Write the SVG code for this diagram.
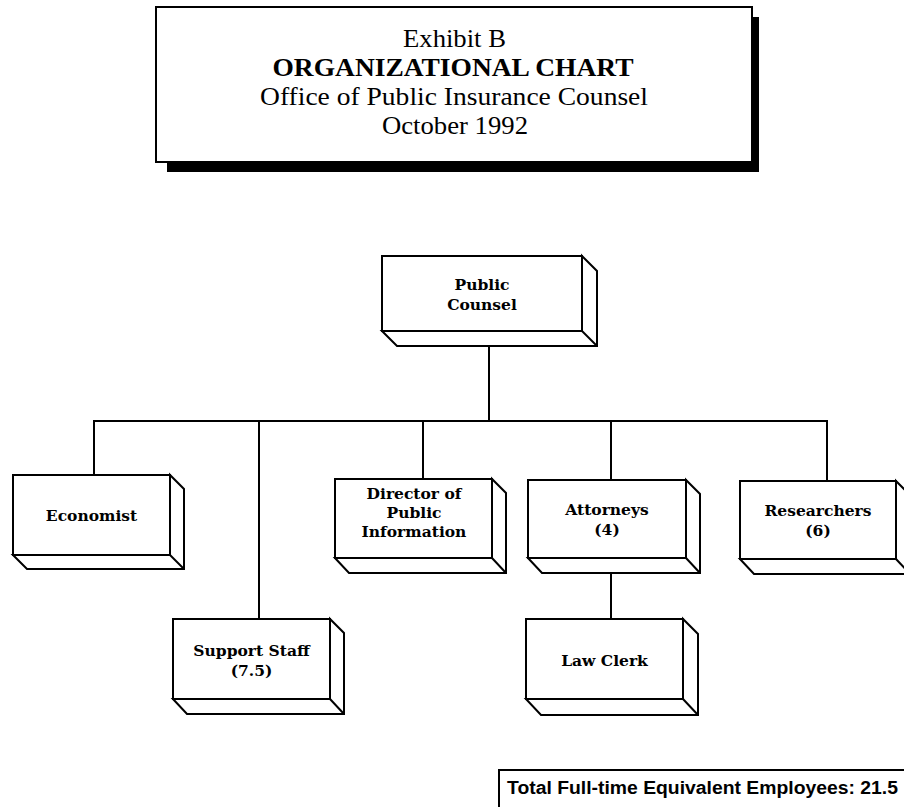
<svg xmlns="http://www.w3.org/2000/svg" width="904" height="807" viewBox="0 0 904 807">
<style>
.bg{fill:#fff}
.box{fill:#fff;stroke:#000;stroke-width:2;stroke-linejoin:miter}
.edge{fill:none;stroke:#000;stroke-width:2}
.conn{fill:none;stroke:#000;stroke-width:2}
.title{font-family:"Liberation Serif","Times New Roman",serif;font-size:25px;fill:#000;text-anchor:middle}
.lbl{font-family:"DejaVu Serif","Liberation Serif",serif;font-weight:bold;font-size:15.5px;fill:#000;text-anchor:middle}
.tot{font-family:"Liberation Sans",Arial,sans-serif;font-weight:bold;font-size:17.5px;fill:#000}
</style>
<rect class="bg" x="0" y="0" width="904" height="807"/>

<g id="title">
  <rect x="752" y="17" width="7" height="155" fill="#000"/>
  <rect x="167" y="162" width="592" height="10" fill="#000"/>
  <rect x="156" y="7" width="596" height="155" fill="#fff" stroke="#000" stroke-width="2"/>
  <text class="title" x="454.5" y="47" textLength="103" lengthAdjust="spacingAndGlyphs">Exhibit B</text>
  <text class="title" x="453" y="76" font-weight="bold" textLength="361" lengthAdjust="spacingAndGlyphs">ORGANIZATIONAL CHART</text>
  <text class="title" x="454" y="105" textLength="388" lengthAdjust="spacingAndGlyphs">Office of Public Insurance Counsel</text>
  <text class="title" x="455" y="134" textLength="146" lengthAdjust="spacingAndGlyphs">October 1992</text>
</g>

<g id="connectors">
  <line class="conn" x1="489" y1="346" x2="489" y2="421"/>
  <line class="conn" x1="93" y1="421" x2="828" y2="421"/>
  <line class="conn" x1="94" y1="421" x2="94" y2="475"/>
  <line class="conn" x1="259" y1="421" x2="259" y2="619"/>
  <line class="conn" x1="423" y1="421" x2="423" y2="479"/>
  <line class="conn" x1="611" y1="421" x2="611" y2="480"/>
  <line class="conn" x1="827" y1="421" x2="827" y2="481"/>
  <line class="conn" x1="611" y1="573" x2="611" y2="619"/>
</g>

<g id="public-counsel">
  <path class="box" d="M382,331 L397,346 L597,346 L597,271 L582,256 L582,331 Z"/>
  <rect class="box" x="382" y="256" width="200" height="75"/>
  <line class="edge" x1="582" y1="331" x2="597" y2="346"/>
  <text class="lbl" x="482" y="290">Public</text>
  <text class="lbl" x="482" y="310">Counsel</text>
</g>

<g id="economist">
  <path class="box" d="M13,555 L27,569 L184,569 L184,489 L170,475 L170,555 Z"/>
  <rect class="box" x="13" y="475" width="157" height="80"/>
  <line class="edge" x1="170" y1="555" x2="184" y2="569"/>
  <text class="lbl" x="91.5" y="521">Economist</text>
</g>

<g id="director">
  <path class="box" d="M335,558 L349,573 L506,573 L506,493 L492,479 L492,558 Z"/>
  <rect class="box" x="335" y="479" width="157" height="79"/>
  <line class="edge" x1="492" y1="558" x2="506" y2="573"/>
  <text class="lbl" x="414" y="499">Director of</text>
  <text class="lbl" x="414" y="518">Public</text>
  <text class="lbl" x="414" y="537">Information</text>
</g>

<g id="attorneys">
  <path class="box" d="M528,558 L542,573 L700,573 L700,494 L686,480 L686,558 Z"/>
  <rect class="box" x="528" y="480" width="158" height="78"/>
  <line class="edge" x1="686" y1="558" x2="700" y2="573"/>
  <text class="lbl" x="607" y="515">Attorneys</text>
  <text class="lbl" x="607" y="535">(4)</text>
</g>

<g id="researchers">
  <path class="box" d="M740,559 L754,574 L910,574 L910,495 L896,481 L896,559 Z"/>
  <rect class="box" x="740" y="481" width="156" height="78"/>
  <line class="edge" x1="896" y1="559" x2="910" y2="574"/>
  <text class="lbl" x="818" y="516">Researchers</text>
  <text class="lbl" x="818" y="536">(6)</text>
</g>

<g id="support-staff">
  <path class="box" d="M173,699 L187,714 L344,714 L344,633 L330,619 L330,699 Z"/>
  <rect class="box" x="173" y="619" width="157" height="80"/>
  <line class="edge" x1="330" y1="699" x2="344" y2="714"/>
  <text class="lbl" x="251.5" y="656">Support Staff</text>
  <text class="lbl" x="251.5" y="676">(7.5)</text>
</g>

<g id="law-clerk">
  <path class="box" d="M526,699 L541,715 L698,715 L698,634 L683,619 L683,699 Z"/>
  <rect class="box" x="526" y="619" width="157" height="80"/>
  <line class="edge" x1="683" y1="699" x2="698" y2="715"/>
  <text class="lbl" x="604.5" y="666">Law Clerk</text>
</g>

<g id="total">
  <path class="edge" d="M499,807 L499,770 L904,770"/>
  <text class="tot" x="507" y="794" textLength="391" lengthAdjust="spacingAndGlyphs">Total Full-time Equivalent Employees: 21.5</text>
</g>
</svg>
